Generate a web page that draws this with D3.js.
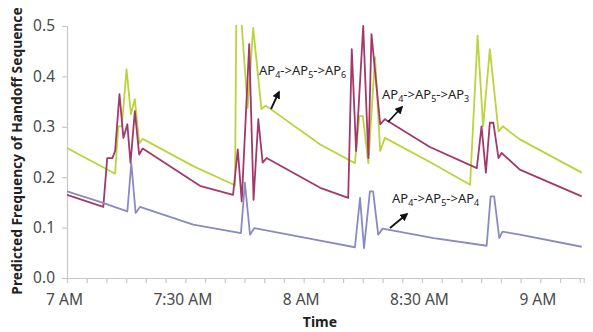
<!DOCTYPE html>
<html>
<head>
<meta charset="utf-8">
<script src="https://cdnjs.cloudflare.com/ajax/libs/d3/7.8.5/d3.min.js"></script>
<style>
  body { margin: 0; background: #fff; }
  svg { display: block; font-family: "Noto Sans", sans-serif; }
</style>
</head>
<body>
<svg id="chart" width="593" height="332"></svg>
<script>
// time is minutes after 7 AM, value is predicted frequency
var minutesSix = [0, 12.2, 13.0, 13.9, 15.1, 16.2, 17.2, 18.3, 19.2, 32, 42.6, 43.0, 43.4, 45.8, 47.2, 49.3, 50.4, 64.2, 73, 74.1, 75, 76.4, 78.1, 79.4, 80.6, 92, 102.2, 104.1, 105.5, 107.2, 109.4, 110.5, 114.8, 130.5];
var valuesSix  = [0.258, 0.207, 0.301, 0.301, 0.414, 0.325, 0.355, 0.267, 0.276, 0.222, 0.184, 0.6, 0.6, 0.337, 0.496, 0.335, 0.342, 0.265, 0.228, 0.321, 0.321, 0.228, 0.438, 0.252, 0.278, 0.23, 0.185, 0.481, 0.301, 0.454, 0.291, 0.301, 0.275, 0.209];

var minutesThree = [0, 9.2, 10.2, 11.5, 12.2, 13.3, 14.3, 15.3, 16.1, 17.2, 18.3, 19.2, 33.7, 42.1, 43.3, 44.3, 46.2, 47.3, 48.5, 49.6, 50.6, 64.2, 71.3, 72.2, 73.3, 75.1, 76.4, 77.2, 79.4, 80.6, 92, 103.9, 105.1, 106.2, 107.2, 108.1, 109.4, 110.2, 114.8, 130.5];
var valuesThree  = [0.165, 0.141, 0.238, 0.238, 0.252, 0.365, 0.278, 0.305, 0.228, 0.331, 0.245, 0.257, 0.183, 0.165, 0.255, 0.152, 0.464, 0.155, 0.315, 0.229, 0.238, 0.179, 0.159, 0.454, 0.252, 0.5, 0.238, 0.484, 0.305, 0.315, 0.26, 0.218, 0.301, 0.209, 0.308, 0.308, 0.238, 0.248, 0.215, 0.162];

var minutesFour = [0, 8, 15.3, 16.3, 17.4, 18.5, 32, 44.1, 45.1, 46.4, 47.5, 64.2, 73, 74.3, 75.3, 76.8, 77.6, 78.9, 80.0, 93, 106.4, 107.4, 108.3, 109.6, 110.4, 114.8, 130.5];
var valuesFour  = [0.172, 0.152, 0.132, 0.228, 0.129, 0.141, 0.106, 0.089, 0.189, 0.086, 0.099, 0.074, 0.061, 0.159, 0.059, 0.172, 0.172, 0.086, 0.098, 0.079, 0.064, 0.162, 0.162, 0.079, 0.092, 0.086, 0.062];

var yTicks = [0, 0.1, 0.2, 0.3, 0.4, 0.5];
var labelMinutes = [0, 30, 60, 90, 120];
var timeLabels = ["7 AM", "7:30 AM", "8 AM", "8:30 AM", "9 AM"];

var seriesNames = ["six", "three", "four"];
var seriesColors = ["#bad43c", "#a3386a", "#8a8ac2"];

var svg = d3.select("#chart");

var x = d3.scaleLinear().domain([0, 131]).range([67, 583.7]);
var y = d3.scaleLinear().domain([0, 0.5]).range([278, 26]);

function pairs(ms, vs) {
  return ms.map(function(m, i) { return [m, vs[i]]; });
}
var series = [
  pairs(minutesSix, valuesSix),
  pairs(minutesThree, valuesThree),
  pairs(minutesFour, valuesFour)
];

// axes
var xAxis = d3.axisBottom(x)
  .tickValues(d3.range(0, 131, 5))
  .tickSize(5)
  .tickPadding(11)
  .tickFormat(function(d) {
    var i = labelMinutes.indexOf(d);
    return i >= 0 ? timeLabels[i] : "";
  });

var gx = svg.append("g")
  .attr("transform", "translate(0," + y(0) + ")")
  .call(xAxis);

var yAxis = d3.axisLeft(y)
  .tickValues(yTicks)
  .tickSize(5)
  .tickPadding(7)
  .tickFormat(d3.format(".1f"));

var gy = svg.append("g")
  .attr("transform", "translate(" + x(0) + ",0)")
  .call(yAxis);

[gx, gy].forEach(function(g) {
  g.select(".domain").attr("stroke", "#c8c8c8").attr("stroke-width", 1.2);
  g.selectAll(".tick line").attr("stroke", "#c8c8c8").attr("stroke-width", 1.2);
  g.selectAll(".tick text")
    .attr("fill", "#4a4a4a")
    .style("font-size", "15.5px")
    .style("font-family", "'Noto Sans', sans-serif");
});
gx.selectAll(".tick text").attr("dx", -3);

// lines, clipped at 0.5
svg.append("clipPath").attr("id", "plot")
  .append("rect")
  .attr("x", x(0)).attr("y", y(0.5) - 1)
  .attr("width", x(131) - x(0)).attr("height", y(0) - y(0.5) + 1);

var line = d3.line()
  .x(function(d) { return x(d[0]); })
  .y(function(d) { return y(d[1]); });

svg.append("g").attr("clip-path", "url(#plot)")
  .selectAll("path")
  .data(series)
  .enter().append("path")
  .attr("class", function(d, i) { return "line " + seriesNames[i]; })
  .attr("d", line)
  .attr("fill", "none")
  .attr("stroke", function(d, i) { return seriesColors[i]; })
  .attr("stroke-width", 1.8)
  .attr("stroke-linejoin", "round");

// titles
svg.append("text")
  .attr("transform", "translate(22,151) rotate(-90)")
  .attr("text-anchor", "middle")
  .attr("fill", "#222")
  .style("font-size", "13.8px")
  .style("font-weight", "bold")
  .text("Predicted Frequency of Handoff Sequence");

svg.append("text")
  .attr("x", 320).attr("y", 327)
  .attr("text-anchor", "middle")
  .attr("fill", "#222")
  .style("font-size", "14px")
  .style("font-weight", "bold")
  .text("Time");

// annotations
svg.append("defs").append("marker")
  .attr("id", "head")
  .attr("viewBox", "0 0 10 10")
  .attr("refX", 8).attr("refY", 5)
  .attr("markerWidth", 4.5).attr("markerHeight", 4.5)
  .attr("orient", "auto")
  .append("path")
  .attr("d", "M0,0 L10,5 L0,10 Z")
  .attr("fill", "#111");

var notes = [
  {subs: ["4", "5", "6"], tx: 259, ty: 75, from: [271, 109], to: [279, 92]},
  {subs: ["4", "5", "3"], tx: 382, ty: 99, from: [388, 122], to: [402, 107]},
  {subs: ["4", "5", "4"], tx: 392, ty: 203, from: [390, 228], to: [407, 214]}
];

notes.forEach(function(n) {
  var t = svg.append("text")
    .attr("x", n.tx).attr("y", n.ty)
    .attr("fill", "#222")
    .style("font-size", "13px");
  n.subs.forEach(function(s, i) {
    t.append("tspan").attr("dy", i === 0 ? 0 : -3).text((i === 0 ? "" : "->") + "AP");
    t.append("tspan").attr("dy", 3).style("font-size", "9px").text(s);
  });
  svg.append("line")
    .attr("x1", n.from[0]).attr("y1", n.from[1])
    .attr("x2", n.to[0]).attr("y2", n.to[1])
    .attr("stroke", "#111")
    .attr("stroke-width", 1.8)
    .attr("marker-end", "url(#head)");
});
</script>
</body>
</html>
